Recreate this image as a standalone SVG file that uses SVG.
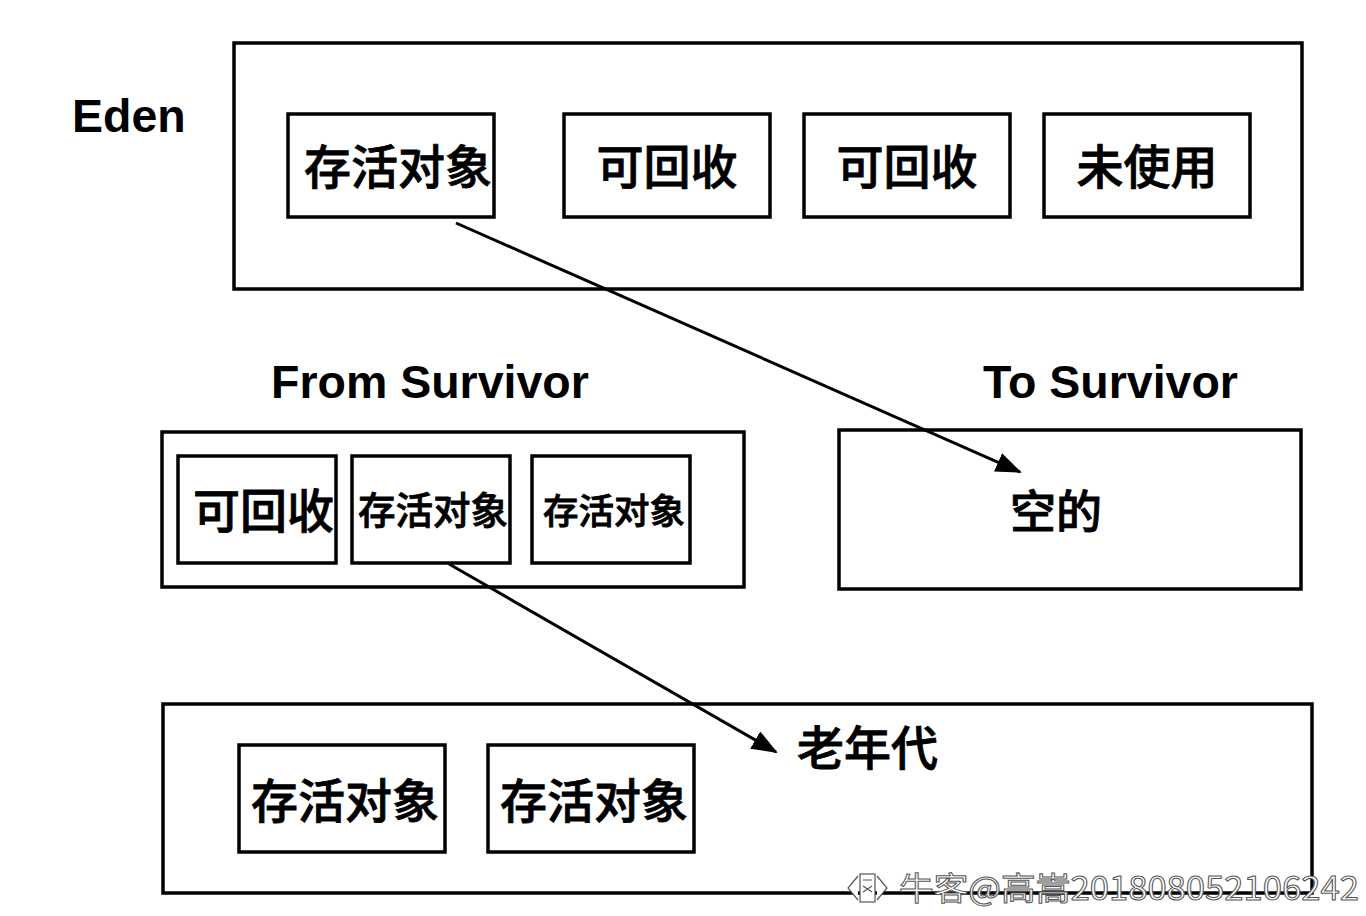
<svg xmlns="http://www.w3.org/2000/svg" width="1366" height="916" viewBox="0 0 1366 916">
<defs>
<marker id="ah" markerWidth="26" markerHeight="20" refX="24" refY="10" orient="auto" markerUnits="userSpaceOnUse" viewBox="0 0 26 20">
<path d="M0,0 L26,10 L0,20 z" fill="#000"/>
</marker>
<style>
.box{fill:#fff;stroke:#000;stroke-width:3.5}
.lbl{font-family:"Liberation Sans","Noto Sans",Arial,sans-serif;font-weight:bold;font-size:46.5px;fill:#000}
.cjk{font-family:"Noto Sans CJK SC","Noto Sans CJK JP",sans-serif;font-weight:500;fill:#000;stroke:#000;stroke-width:0.8}
.wm{font-family:"Noto Sans CJK SC","Liberation Sans",sans-serif;font-size:32px;fill:#fff;stroke:#555;stroke-width:1}
</style>
</defs>
<rect width="1366" height="916" fill="#fff"/>
<g id="eden">
<rect class="box" x="234" y="43" width="1068" height="246"/>
<text class="lbl" x="72" y="132">Eden</text>
</g>
<g id="eden-live"><rect class="box" x="288" y="114" width="206" height="103"/><text class="cjk" x="304" y="184" font-size="47">存活对象</text></g>
<g id="eden-rec1"><rect class="box" x="564" y="114" width="206" height="103"/><text class="cjk" x="667" y="184" font-size="47" text-anchor="middle">可回收</text></g>
<g id="eden-rec2"><rect class="box" x="804" y="114" width="206" height="103"/><text class="cjk" x="907" y="184" font-size="47" text-anchor="middle">可回收</text></g>
<g id="eden-unused"><rect class="box" x="1044" y="114" width="206" height="103"/><text class="cjk" x="1147" y="184" font-size="47" text-anchor="middle">未使用</text></g>
<g id="from">
<rect class="box" x="162" y="432" width="582" height="155"/>
<text class="lbl" x="271" y="398">From Survivor</text>
</g>
<g id="from-rec"><rect class="box" x="178" y="456" width="158" height="107"/><text class="cjk" x="193" y="528" font-size="47">可回收</text></g>
<g id="from-live1"><rect class="box" x="352" y="456" width="158" height="107"/><text class="cjk" x="358" y="524" font-size="37.5">存活对象</text></g>
<g id="from-live2"><rect class="box" x="532" y="456" width="158" height="107"/><text class="cjk" x="543" y="524" font-size="35.5">存活对象</text></g>
<g id="to">
<rect class="box" x="839" y="430" width="462" height="159"/>
<text class="lbl" x="983" y="398">To Survivor</text>
<text class="cjk" x="1056" y="528" font-size="46" text-anchor="middle">空的</text>
</g>
<g id="old">
<rect class="box" x="163" y="704" width="1149" height="189"/>
<text class="cjk" x="797" y="765" font-size="47">老年代</text>
</g>
<g id="old-live1"><rect class="box" x="239" y="745" width="206" height="107"/><text class="cjk" x="251" y="818" font-size="47">存活对象</text></g>
<g id="old-live2"><rect class="box" x="488" y="745" width="206" height="107"/><text class="cjk" x="500" y="818" font-size="47">存活对象</text></g>
<g id="connectors" stroke="#000" stroke-width="3" fill="none">
<line x1="456" y1="223" x2="1020" y2="472" marker-end="url(#ah)"/>
<line x1="449" y1="564" x2="776" y2="752" marker-end="url(#ah)"/>
</g>
<g id="watermark">
<g fill="#fff" stroke="#555" stroke-width="1.2">
<path d="M858,876 L848,888 L858,900"/>
<path d="M877,876 L887,888 L877,900"/>
<rect x="860" y="874" width="15" height="28"/>
<path d="M863,880 L872,880 M863,886 L872,892 M872,886 L863,892"/>
</g>
<text class="wm" x="899" y="900" textLength="460" lengthAdjust="spacingAndGlyphs">牛客@高嵩201808052106242</text>
</g>
</svg>
